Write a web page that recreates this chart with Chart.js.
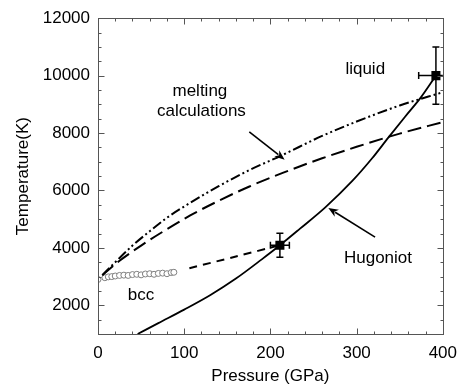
<!DOCTYPE html>
<html>
<head>
<meta charset="utf-8">
<script src="https://cdn.jsdelivr.net/npm/chart.js@4.4.0/dist/chart.umd.min.js"></script>
<style>
  html, body { margin: 0; padding: 0; background: #fff; }
  #wrap { width: 466px; height: 387px; }
</style>
</head>
<body>
<div id="wrap"><canvas id="c" width="466" height="387"></canvas></div>
<script>
// ---- data ----
const xTickValues = [0, 100, 200, 300, 400];
const yTickValues = [2000, 4000, 6000, 8000, 10000, 12000];

const hugoniotP = [46, 70, 100, 130, 160, 190, 211, 234, 264, 295, 318, 337, 356, 375, 392];
const hugoniotT = [1000, 1380, 1850, 2350, 2930, 3600, 4090, 4660, 5420, 6330, 7120, 7850, 8560, 9260, 10000];

const meltUpperP = [5, 20, 40, 60, 80, 107, 140, 175, 213, 260, 300, 350, 400];
const meltUpperT = [3050, 3500, 4080, 4580, 5050, 5570, 6150, 6700, 7220, 7900, 8400, 8960, 9420];

const meltLowerP = [5, 25, 50, 75, 107, 140, 175, 215, 260, 300, 350, 400];
const meltLowerT = [3050, 3550, 4080, 4560, 5130, 5640, 6130, 6620, 7120, 7520, 7980, 8380];

const bccLineP = [106, 160, 211];
const bccLineT = [3290, 3700, 4090];

const bccP = [0, 8, 12, 16, 20, 25, 30, 35, 40, 45, 50, 55, 60, 65, 70, 75, 80, 85, 88];
const bccT = [2900, 2960, 2990, 3000, 3020, 3040, 3050, 3040, 3070, 3080, 3060, 3090, 3100, 3080, 3110, 3120, 3100, 3140, 3150];

const expP = [211, 392];
const expT = [4090, 10000];
const expErrP = [11, 20];
const expErrT = [420, 1000];

// text labels [P, T, text]
const labelP = [310, 49.8, 324.8, 118.2, 120];
const labelT = [10220, 2353, 3627, 9467, 8773];
const labelText = ['liquid', 'bcc', 'Hugoniot', 'melting', 'calculations'];

// arrows: from (P,T) to tip (P,T)
const arrowFromP = [175.5, 321.4];
const arrowFromT = [8044, 4376];
const arrowToP = [216.5, 267.2];
const arrowToT = [7073, 5390];

const xMin = 0, xMax = 400, yMin = 1000, yMax = 12000;
const xMinorStep = 20, yMinorStep = 500;

const toXY = (ps, ts) => ps.map((p, i) => ({ x: p, y: ts[i] }));
const FONT = '"Liberation Sans", Arial, Helvetica, sans-serif';

const decorPlugin = {
  id: 'decor',
  afterDatasetsDraw(chart) {
    const ctx = chart.ctx;
    const xs = chart.scales.x, ys = chart.scales.y;
    const ca = chart.chartArea;
    ctx.save();
    // error bars
    ctx.strokeStyle = '#000';
    ctx.lineWidth = 1.5;
    ctx.beginPath();
    ctx.rect(ca.left, ca.top, ca.right - ca.left, ca.bottom - ca.top);
    ctx.clip();
    for (let i = 0; i < expP.length; i++) {
      const cx = xs.getPixelForValue(expP[i]);
      const cy = ys.getPixelForValue(expT[i]);
      const x1 = xs.getPixelForValue(expP[i] - expErrP[i]);
      const x2 = xs.getPixelForValue(expP[i] + expErrP[i]);
      const y1 = ys.getPixelForValue(expT[i] + expErrT[i]);
      const y2 = ys.getPixelForValue(expT[i] - expErrT[i]);
      const cap = 3.5;
      ctx.beginPath();
      ctx.moveTo(x1, cy); ctx.lineTo(x2, cy);
      ctx.moveTo(cx, y1); ctx.lineTo(cx, y2);
      ctx.moveTo(x1, cy - cap); ctx.lineTo(x1, cy + cap);
      ctx.moveTo(x2, cy - cap); ctx.lineTo(x2, cy + cap);
      ctx.moveTo(cx - cap, y1); ctx.lineTo(cx + cap, y1);
      ctx.moveTo(cx - cap, y2); ctx.lineTo(cx + cap, y2);
      ctx.stroke();
    }
    ctx.restore();

    ctx.save();
    // arrows
    ctx.strokeStyle = '#000';
    ctx.fillStyle = '#000';
    ctx.lineWidth = 1.6;
    for (let i = 0; i < arrowFromP.length; i++) {
      const ax = xs.getPixelForValue(arrowFromP[i]);
      const ay = ys.getPixelForValue(arrowFromT[i]);
      const bx = xs.getPixelForValue(arrowToP[i]);
      const by = ys.getPixelForValue(arrowToT[i]);
      const ang = Math.atan2(by - ay, bx - ax);
      const hl = 10, hw = 4;
      const bxs = bx - Math.cos(ang) * hl, bys = by - Math.sin(ang) * hl;
      ctx.beginPath();
      ctx.moveTo(ax, ay); ctx.lineTo(bxs + Math.cos(ang) * 2, bys + Math.sin(ang) * 2);
      ctx.stroke();
      ctx.beginPath();
      ctx.moveTo(bx, by);
      ctx.lineTo(bxs - Math.sin(ang) * hw, bys + Math.cos(ang) * hw);
      ctx.lineTo(bxs + Math.cos(ang) * 3, bys + Math.sin(ang) * 3);
      ctx.lineTo(bxs + Math.sin(ang) * hw, bys - Math.cos(ang) * hw);
      ctx.closePath();
      ctx.fill();
    }
    // labels
    ctx.font = '17px ' + FONT;
    ctx.textAlign = 'center';
    ctx.textBaseline = 'middle';
    for (let i = 0; i < labelText.length; i++) {
      ctx.fillText(labelText[i], xs.getPixelForValue(labelP[i]), ys.getPixelForValue(labelT[i]));
    }
    // frame
    ctx.strokeStyle = '#555';
    ctx.lineWidth = 1;
    const L = Math.round(ca.left) + 0.5, R = Math.round(ca.right) + 0.5;
    const T = Math.round(ca.top) + 0.5, B = Math.round(ca.bottom) + 0.5;
    ctx.strokeRect(L, T, R - L, B - T);
    // inward ticks on all sides
    ctx.beginPath();
    for (let v = xMin; v <= xMax + 1e-6; v += xMinorStep) {
      const major = xTickValues.includes(v);
      const len = major ? 6 : 3;
      const px = Math.round(xs.getPixelForValue(v)) + 0.5;
      ctx.moveTo(px, B); ctx.lineTo(px, B - len);
      ctx.moveTo(px, T); ctx.lineTo(px, T + len);
    }
    for (let v = yMin; v <= yMax + 1e-6; v += yMinorStep) {
      const major = yTickValues.includes(v);
      const len = major ? 6 : 3;
      const py = Math.round(ys.getPixelForValue(v)) + 0.5;
      ctx.moveTo(L, py); ctx.lineTo(L + len, py);
      ctx.moveTo(R, py); ctx.lineTo(R - len, py);
    }
    ctx.stroke();
    ctx.restore();
  }
};

new Chart(document.getElementById('c'), {
  type: 'scatter',
  data: {
    datasets: [
      { label: 'Hugoniot', data: toXY(hugoniotP, hugoniotT), showLine: true, borderColor: '#000', borderWidth: 1.8, pointRadius: 0, cubicInterpolationMode: 'monotone', fill: false },
      { label: 'melting upper', data: toXY(meltUpperP, meltUpperT), showLine: true, borderColor: '#000', borderWidth: 2, borderDash: [10, 3, 2, 3, 2, 3], pointRadius: 0, cubicInterpolationMode: 'monotone', fill: false },
      { label: 'melting lower', data: toXY(meltLowerP, meltLowerT), showLine: true, borderColor: '#000', borderWidth: 2, borderDash: [14, 6], pointRadius: 0, cubicInterpolationMode: 'monotone', fill: false },
      { label: 'bcc line', data: toXY(bccLineP, bccLineT), showLine: true, borderColor: '#000', borderWidth: 2, borderDash: [8, 6], pointRadius: 0, tension: 0.3, fill: false },
      { label: 'bcc', data: toXY(bccP, bccT), showLine: false, pointStyle: 'circle', pointRadius: 3, borderColor: '#808080', backgroundColor: '#fff', borderWidth: 1 },
      { label: 'exp', data: toXY(expP, expT), showLine: false, pointStyle: 'rect', pointRadius: 6.4, borderColor: '#000', backgroundColor: '#000', borderWidth: 0 }
    ]
  },
  options: {
    responsive: false,
    animation: false,
    devicePixelRatio: 1,
    layout: { padding: { top: 17, right: 17, left: 0, bottom: 0 } },
    plugins: { legend: { display: false }, tooltip: { enabled: false } },
    scales: {
      x: {
        type: 'linear', min: xMin, max: xMax,
        afterBuildTicks(s) { s.ticks = xTickValues.map(v => ({ value: v })); },
        afterFit(s) { s.height = 53; },
        grid: { display: false, drawTicks: false },
        border: { display: false },
        ticks: { color: '#000', padding: 9, font: { family: FONT, size: 17 }, maxRotation: 0, callback: v => String(v) },
        title: { display: true, text: 'Pressure (GPa)', color: '#000', font: { family: FONT, size: 17 }, padding: { top: 0, bottom: 0 } }
      },
      y: {
        type: 'linear', min: yMin, max: yMax,
        afterBuildTicks(s) { s.ticks = yTickValues.map(v => ({ value: v })); },
        afterFit(s) { s.width = 98; },
        grid: { display: false, drawTicks: false },
        border: { display: false },
        ticks: { color: '#000', padding: 8, font: { family: FONT, size: 17 }, callback: v => String(v) },
        title: { display: true, text: 'Temperature(K)', color: '#000', font: { family: FONT, size: 17 }, padding: { top: 13, bottom: 0 } }
      }
    }
  },
  plugins: [decorPlugin]
});
</script>
</body>
</html>
